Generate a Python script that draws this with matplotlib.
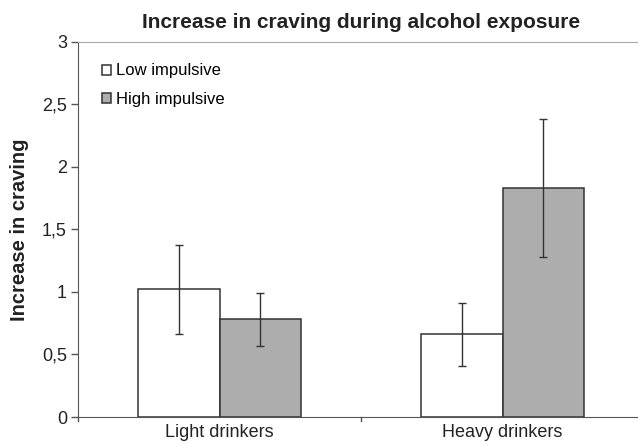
import matplotlib.pyplot as plt
import numpy as np

plt.rcParams['font.family'] = ['Liberation Sans', 'DejaVu Sans']

groups = ['Light drinkers', 'Heavy drinkers']
series = ['Low impulsive', 'High impulsive']
low_mean = [1.02, 0.66]
low_err = [0.355, 0.25]
high_mean = [0.78, 1.83]
high_err = [0.215, 0.55]
y_ticks = [0, 0.5, 1, 1.5, 2, 2.5, 3]
y_labels = ['0', '0,5', '1', '1,5', '2', '2,5', '3']

fig = plt.figure(figsize=(6.38, 4.46), dpi=100)
ax = fig.add_axes([78 / 638, 29 / 446, 566 / 638, 375.3 / 446])

x = np.arange(len(groups))
w = 0.288
edge = '#333333'
err_kw = dict(ecolor='#333333', elinewidth=1, capsize=3, capthick=1)

ax.bar(x - w / 2, low_mean, w, yerr=low_err, color='white', edgecolor=edge,
       linewidth=1.1, label=series[0], error_kw=err_kw)
ax.bar(x + w / 2, high_mean, w, yerr=high_err, color='#adadad', edgecolor=edge,
       linewidth=1.1, label=series[1], error_kw=err_kw)

ax.set_xlim(-0.5, 1.5)
ax.set_ylim(0, 3)
ax.set_yticks(y_ticks)
ax.set_yticklabels(y_labels, fontsize=13, color='#222222')
ax.set_xticks(x)
ax.set_xticklabels(groups, fontsize=13, color='#222222')
ax.tick_params(axis='x', length=0, pad=5)
ax.tick_params(axis='y', length=5, width=1, color='#555555', direction='out', pad=3)

# category separators on the x axis
for xs in [-0.5, 0.5]:
    ax.plot([xs, xs], [0, -0.03], color='#555555', lw=1, clip_on=False)

for side in ['left', 'bottom']:
    ax.spines[side].set_color('#555555')
ax.spines['top'].set_color('#aaaaaa')
ax.spines['right'].set_visible(False)

ax.set_title('Increase in craving during alcohol exposure', fontsize=15,
             fontweight='bold', pad=10, color='#222222')
ax.set_ylabel('Increase in craving', fontsize=14.5, fontweight='bold',
              labelpad=9, color='#222222')

ax.legend(loc='upper left', bbox_to_anchor=(0.042, 0.942), frameon=False,
          fontsize=12, handlelength=0.55, handleheight=0.55, handletextpad=0.3,
          labelspacing=0.8, borderaxespad=0, borderpad=0)

fig.savefig('out.png', dpi=100)
